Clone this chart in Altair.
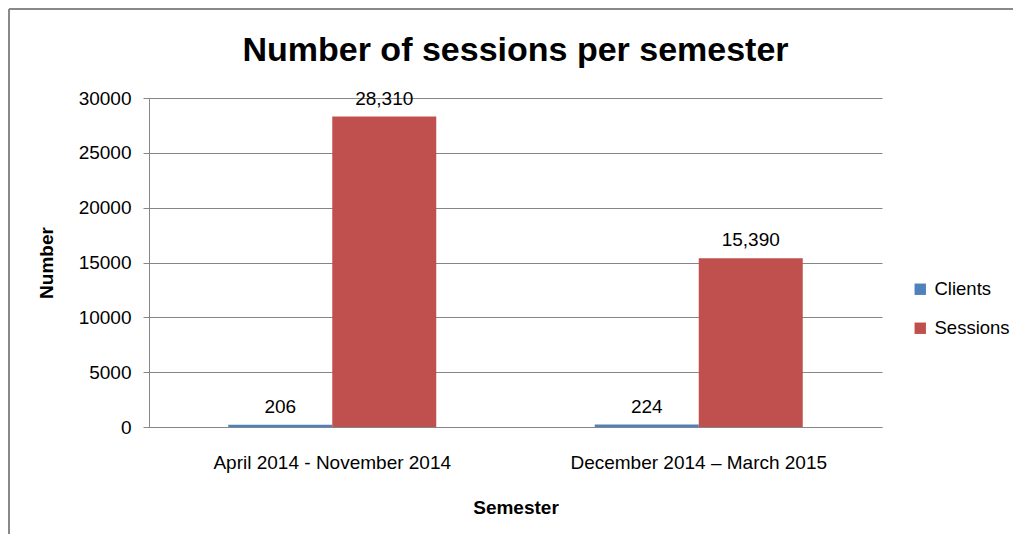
import altair as alt
import pandas as pd

semesters = ["April 2014 -  November 2014", "December 2014 \u2013 March 2015"]
series = ["Clients", "Sessions"]
clients = [206, 224]
sessions = [28310, 15390]
colors = ["#4F81BD", "#C0504D"]
y_ticks = [0, 5000, 10000, 15000, 20000, 25000, 30000]

rows = []
for i, s in enumerate(semesters):
    rows.append({"Semester": s, "Series": "Clients", "Number": clients[i]})
    rows.append({"Semester": s, "Series": "Sessions", "Number": sessions[i]})
df = pd.DataFrame(rows)

FONT = "Liberation Sans"
GRAY = "#868686"

x_enc = alt.X(
    "Semester:N",
    sort=semesters,
    scale=alt.Scale(paddingInner=0, paddingOuter=0),
    axis=alt.Axis(labelAngle=0, ticks=False, grid=False, labelPadding=26,
                  labelLimit=500, titlePadding=26, domainColor=GRAY),
    title="Semester",
)
xoff = alt.XOffset("Series:N", sort=series,
                   scale=alt.Scale(paddingInner=0, paddingOuter=0.762))
y_enc = alt.Y(
    "Number:Q",
    scale=alt.Scale(domain=[0, 30000], nice=False),
    axis=alt.Axis(values=y_ticks, format="d", grid=True, gridColor=GRAY,
                  domainColor=GRAY, tickColor=GRAY, tickSize=6,
                  labelPadding=12, titlePadding=22),
    title="Number",
)

base = alt.Chart(df)

bars = base.mark_bar().encode(
    x=x_enc,
    xOffset=xoff,
    y=y_enc,
    color=alt.Color(
        "Series:N",
        sort=series,
        scale=alt.Scale(domain=series, range=colors),
        legend=alt.Legend(title=None, orient="none", legendX=762, legendY=182,
                          symbolType="square", symbolSize=130,
                          symbolStrokeWidth=0, labelFont=FONT,
                          labelFontSize=18.5, labelColor="#000",
                          rowPadding=20, labelOffset=5, padding=0,
                          labelLimit=200),
    ),
)

labels = base.mark_text(dy=-12, baseline="alphabetic", font=FONT,
                        fontSize=19, color="#000").encode(
    x=alt.X("Semester:N", sort=semesters),
    xOffset=alt.XOffset("Series:N", sort=series),
    y=alt.Y("Number:Q"),
    text=alt.Text("Number:Q", format=","),
)

frame_df = pd.DataFrame({"k": [0]})
frame_top = alt.Chart(frame_df).mark_rule(color="#898989", strokeWidth=2).encode(
    x=alt.value(-140), x2=alt.value(866), y=alt.value(-89)
)
frame_left = alt.Chart(frame_df).mark_rule(color="#898989", strokeWidth=2).encode(
    x=alt.value(-140), y=alt.value(-89), y2=alt.value(436)
)

chart = alt.layer(bars, labels, frame_top, frame_left).properties(
    width=733,
    height=329,
    autosize=alt.AutoSizeParams(type="none"),
    padding={"left": 141, "top": 90, "right": 131, "bottom": 107},
    title=alt.Title("Number of sessions per semester", font=FONT, fontSize=34,
                    fontWeight="bold", color="#000", anchor="middle",
                    frame="group", baseline="alphabetic", offset=30, dy=117),
).configure_view(stroke=None).configure_axis(
    labelFont=FONT, labelFontSize=19, labelColor="#000",
    titleFont=FONT, titleFontSize=19, titleFontWeight="bold", titleColor="#000",
)

chart.save("out.html", embed_options={"renderer": "svg", "actions": False})
